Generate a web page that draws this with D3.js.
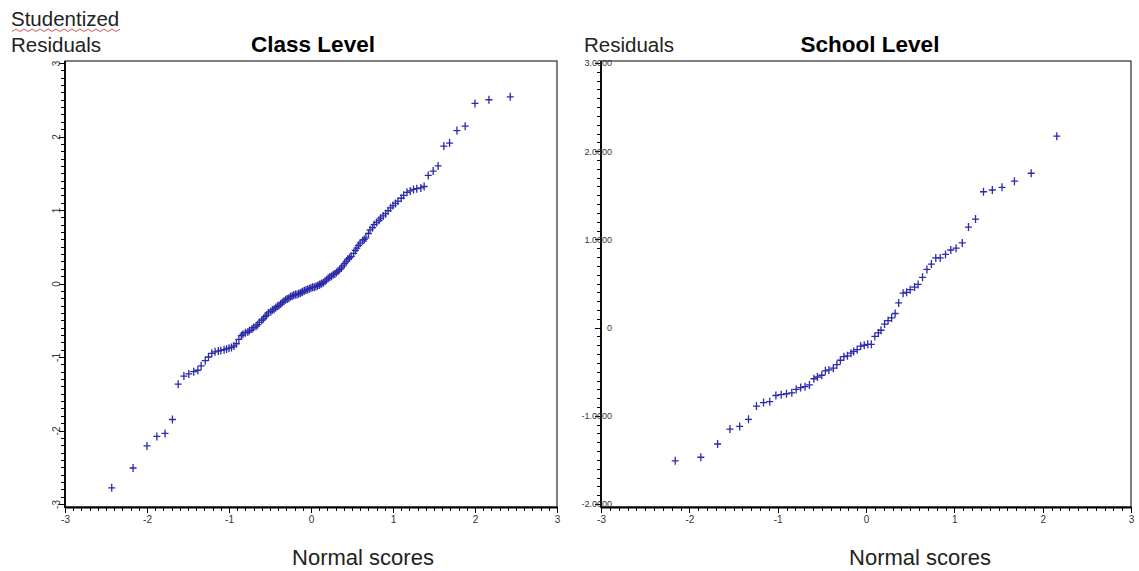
<!DOCTYPE html>
<html><head><meta charset="utf-8">
<script src="https://cdn.jsdelivr.net/npm/d3@7"></script>
<style>
body{margin:0;background:#fff}
svg{display:block}
text{font-family:"Liberation Sans",Arial,sans-serif}
</style>
</head><body>
<svg id="c" width="1139" height="571"></svg>
<script>
// ---------- data ----------
const classScores = [-2.43,-2.17,-2.00,-1.88,-1.78,-1.69,-1.62,-1.55,-1.49,-1.43,
-1.38,-1.34,-1.29,-1.25,-1.21,-1.17,-1.13,-1.10,-1.06,-1.03,
-1.00,-0.97,-0.94,-0.91,-0.88,-0.85,-0.83,-0.80,-0.77,-0.75,
-0.72,-0.70,-0.67,-0.65,-0.63,-0.60,-0.58,-0.56,-0.54,-0.52,
-0.49,-0.47,-0.45,-0.43,-0.41,-0.39,-0.37,-0.35,-0.33,-0.31,
-0.29,-0.27,-0.25,-0.23,-0.21,-0.19,-0.17,-0.15,-0.13,-0.11,
-0.10,-0.08,-0.06,-0.04,-0.02,0,0.02,0.04,0.06,0.08,
0.10,0.11,0.13,0.15,0.17,0.19,0.21,0.23,0.25,0.27,
0.29,0.31,0.33,0.35,0.37,0.39,0.41,0.43,0.45,0.47,
0.49,0.52,0.54,0.56,0.58,0.60,0.63,0.65,0.67,0.70,
0.72,0.75,0.77,0.80,0.83,0.85,0.88,0.91,0.94,0.97,
1.00,1.03,1.06,1.10,1.13,1.17,1.21,1.25,1.29,1.34,
1.38,1.43,1.49,1.55,1.62,1.69,1.78,1.88,2.00,2.17,
2.43];
const classResiduals = [-2.78,-2.51,-2.21,-2.08,-2.04,-1.85,-1.37,-1.26,-1.23,-1.20,
-1.18,-1.12,-1.05,-1.00,-0.95,-0.93,-0.92,-0.91,-0.90,-0.89,
-0.88,-0.87,-0.85,-0.82,-0.76,-0.71,-0.69,-0.67,-0.66,-0.64,
-0.62,-0.60,-0.58,-0.56,-0.53,-0.50,-0.48,-0.45,-0.43,-0.40,
-0.38,-0.36,-0.35,-0.33,-0.31,-0.30,-0.28,-0.26,-0.24,-0.22,
-0.21,-0.20,-0.18,-0.17,-0.16,-0.15,-0.15,-0.14,-0.13,-0.12,
-0.11,-0.10,-0.09,-0.08,-0.07,-0.06,-0.05,-0.05,-0.04,-0.03,
-0.02,-0.01,0.00,0.01,0.03,0.05,0.07,0.09,0.10,0.12,
0.13,0.15,0.17,0.19,0.21,0.24,0.27,0.30,0.33,0.35,
0.37,0.41,0.45,0.48,0.52,0.55,0.58,0.60,0.62,0.68,
0.73,0.76,0.80,0.83,0.86,0.89,0.92,0.95,0.99,1.03,
1.06,1.09,1.12,1.16,1.20,1.24,1.26,1.28,1.29,1.30,
1.32,1.47,1.53,1.60,1.87,1.91,2.08,2.14,2.45,2.50,
2.54];

const schoolScores = [-2.16,-1.87,-1.68,-1.54,-1.43,-1.33,-1.24,-1.16,-1.09,-1.02,
-0.96,-0.90,-0.84,-0.79,-0.74,-0.69,-0.64,-0.59,-0.55,-0.50,
-0.46,-0.42,-0.37,-0.33,-0.29,-0.25,-0.21,-0.17,-0.14,-0.10,
-0.06,-0.02,0.02,0.06,0.10,0.14,0.17,0.21,0.25,0.29,
0.33,0.37,0.42,0.46,0.50,0.55,0.59,0.64,0.69,0.74,
0.79,0.84,0.90,0.96,1.02,1.09,1.16,1.24,1.33,1.43,
1.54,1.68,1.87,2.16];
const schoolResiduals = [-1.51,-1.47,-1.32,-1.15,-1.12,-1.04,-0.89,-0.85,-0.84,-0.77,
-0.76,-0.75,-0.74,-0.70,-0.68,-0.67,-0.65,-0.58,-0.56,-0.54,
-0.49,-0.48,-0.46,-0.42,-0.37,-0.33,-0.32,-0.29,-0.27,-0.25,
-0.21,-0.20,-0.19,-0.19,-0.10,-0.06,-0.03,0.04,0.08,0.11,
0.16,0.28,0.39,0.40,0.43,0.46,0.49,0.57,0.66,0.72,
0.79,0.79,0.83,0.88,0.90,0.96,1.14,1.23,1.54,1.56,
1.59,1.66,1.75,2.17];

const xTicks = [-3,-2,-1,0,1,2,3];
const xTickLabels = ["-3","-2","-1","0","1","2","3"];
const classYTicks = [-3,-2,-1,0,1,2,3];
const classYLabels = ["-3","-2","-1","0","1","2","3"];
const schoolYTicks = [-2,-1,0,1,2,3];
const schoolYLabels = ["-2.0000","-1.0000","0","1.0000","2.0000","3.0000"];

// ---------- drawing ----------
const svg = d3.select("#c");
const markColor = "#2a2aaa";
const tickColor = "#333";

function styleTicks(sel){
  sel.selectAll(".tick line").attr("stroke","#000").attr("stroke-width",1)
    .attr("shape-rendering","crispEdges");
}

function panel(o){
  const x = d3.scaleLinear().domain([-3,3]).range([o.x0, o.x1]);
  const y = d3.scaleLinear().domain(o.yDomain).range([o.yB, o.yT]);
  const g = svg.append("g");

  // frame
  g.append("rect").attr("x", o.x0).attr("y", o.boxTop)
    .attr("width", o.x1 - o.x0).attr("height", o.boxBottom - o.boxTop)
    .attr("fill","none").attr("stroke","#000").attr("stroke-width",1);

  // x axis minor + major
  const minorX = d3.range(-30, 31).map(d => d/10);
  const xm = g.append("g").attr("transform",`translate(0,${o.boxBottom})`)
    .call(d3.axisBottom(x).tickValues(minorX).tickSize(4).tickSizeOuter(0).tickFormat(""));
  xm.select(".domain").attr("stroke-width",1.8);
  styleTicks(xm);
  const xM = g.append("g").attr("transform",`translate(0,${o.boxBottom})`)
    .call(d3.axisBottom(x).tickValues(xTicks).tickSize(6).tickSizeOuter(0)
      .tickFormat((d,i) => xTickLabels[i]));
  xM.select(".domain").remove();
  styleTicks(xM);
  xM.attr("font-size", 10);
  xM.selectAll("text").attr("y", 9).attr("dy","0.71em")
    .attr("fill", tickColor).attr("font-family","Liberation Sans, Arial, sans-serif");

  // y axis minor + major
  const yMin = o.yDomain[0]*10, yMax = o.yDomain[1]*10;
  const minorY = d3.range(yMin, yMax+1).map(d => d/10);
  const ym = g.append("g").attr("transform",`translate(${o.x0},0)`)
    .call(d3.axisLeft(y).tickValues(minorY).tickSize(4).tickSizeOuter(0).tickFormat(""));
  ym.select(".domain").remove();
  styleTicks(ym);
  g.append("line").attr("x1",o.x0).attr("x2",o.x0).attr("y1",o.boxTop).attr("y2",o.boxBottom+1)
    .attr("stroke","#000").attr("stroke-width",1.8);
  const yM = g.append("g").attr("transform",`translate(${o.x0},0)`)
    .call(d3.axisLeft(y).tickValues(o.yTicks).tickSize(6).tickSizeOuter(0)
      .tickFormat((d,i) => o.yLabels[i]));
  yM.select(".domain").remove();
  styleTicks(yM);
  yM.attr("font-size", 10);
  yM.selectAll("text").attr("fill", tickColor)
    .attr("font-family","Liberation Sans, Arial, sans-serif");
  if (o.rotateY) {
    yM.selectAll("text").attr("x", 0).attr("dy", 0)
      .attr("text-anchor","middle")
      .attr("transform","translate(-5,0) rotate(-90)");
  } else {
    yM.selectAll("text").attr("x", 11).attr("dy","0.32em").attr("text-anchor","end")
      .attr("font-size", 9);
  }

  // points
  g.append("g").selectAll("path").data(o.xs).join("path")
    .attr("transform",(d,i) => `translate(${x(d)},${y(o.ys[i])})`)
    .attr("d","M-3.5,0H3.5M0,-4V4")
    .attr("stroke", markColor).attr("stroke-width",1.3).attr("fill","none");

  // title
  svg.append("text").attr("x", o.titleX).attr("y", 52).attr("text-anchor","middle")
    .attr("font-size", 22.5).attr("font-weight","bold").attr("fill","#000").text(o.title);
  // x label
  svg.append("text").attr("x", o.xLabelX).attr("y", 565).attr("text-anchor","middle")
    .attr("font-size", 22).attr("fill","#222").text("Normal scores");
}

panel({x0:65, x1:557, yT:63, yB:504, boxTop:61, boxBottom:507, yDomain:[-3,3],
  yTicks:classYTicks, yLabels:classYLabels, rotateY:true,
  xs:classScores, ys:classResiduals, title:"Class Level", titleX:313, xLabelX:363});
panel({x0:601, x1:1131, yT:63, yB:504, boxTop:61, boxBottom:507, yDomain:[-2,3],
  yTicks:schoolYTicks, yLabels:schoolYLabels, rotateY:false,
  xs:schoolScores, ys:schoolResiduals, title:"School Level", titleX:870, xLabelX:920});

// y-axis captions
svg.append("text").attr("x",11).attr("y",26).attr("font-size",20.5).attr("fill","#222").text("Studentized");
svg.append("text").attr("x",11).attr("y",52).attr("font-size",20.5).attr("fill","#222").text("Residuals");
svg.append("text").attr("x",584).attr("y",52).attr("font-size",20.5).attr("fill","#222").text("Residuals");

// red wavy spell-check underline under "Studentized"
const wave = d3.range(0, 28).map(i => [12 + i*4, i % 2 ? 29 : 31.5]);
svg.append("path").attr("d", d3.line()(wave)).attr("fill","none").attr("stroke","#d04040").attr("stroke-width",0.9);
</script>
</body></html>
